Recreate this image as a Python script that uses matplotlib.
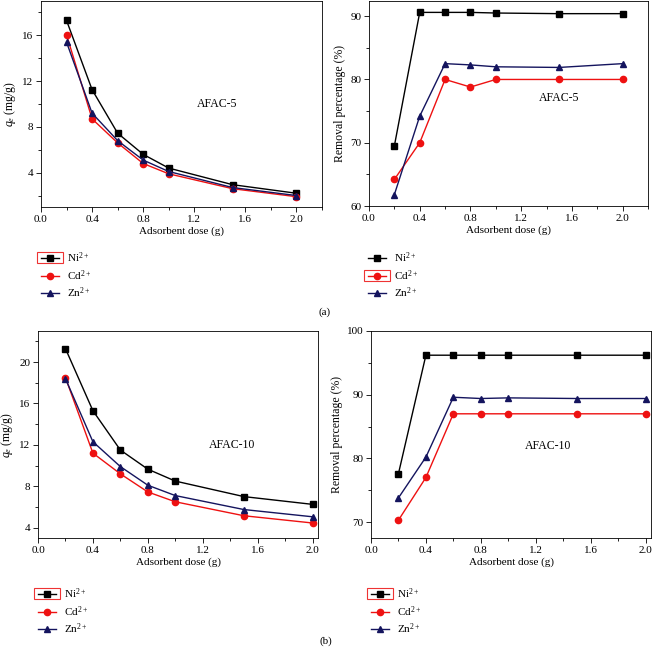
import numpy as np
import matplotlib
matplotlib.use("Agg")
import matplotlib.pyplot as plt
from matplotlib.ticker import MultipleLocator, FormatStrFormatter
from matplotlib.patches import Rectangle

plt.rcParams['font.family'] = ['Liberation Serif', 'DejaVu Serif']
plt.rcParams['mathtext.fontset'] = 'custom'
plt.rcParams['mathtext.rm'] = 'Liberation Serif'
plt.rcParams['mathtext.it'] = 'Liberation Serif:italic'
plt.rcParams['font.size'] = 8

# -------- DATA --------
dose = [0.2, 0.4, 0.6, 0.8, 1.0, 1.5, 2.0]
ions = ["Ni$^{2+}$", "Cd$^{2+}$", "Zn$^{2+}$"]

# (a) AFAC-5
qe5_ni = [17.3, 11.25, 7.45, 5.6, 4.4, 2.95, 2.2]
qe5_cd = [16.05, 8.7, 6.6, 4.8, 3.9, 2.6, 1.9]
qe5_zn = [15.4, 9.2, 6.8, 5.1, 4.1, 2.7, 2.0]
rm5_ni = [69.5, 90.6, 90.6, 90.6, 90.5, 90.4, 90.4]
rm5_cd = [64.2, 70.0, 80.0, 78.8, 80.0, 80.0, 80.0]
rm5_zn = [61.8, 74.2, 82.5, 82.3, 82.0, 81.9, 82.5]

# (b) AFAC-10
qe10_ni = [21.3, 15.3, 11.5, 9.65, 8.5, 7.0, 6.25]
qe10_cd = [18.5, 11.2, 9.2, 7.45, 6.5, 5.15, 4.45]
qe10_zn = [18.4, 12.3, 9.9, 8.1, 7.1, 5.75, 5.05]
rm10_ni = [77.6, 96.2, 96.2, 96.2, 96.2, 96.2, 96.2]
rm10_cd = [70.3, 77.0, 87.0, 87.0, 87.0, 87.0, 87.0]
rm10_zn = [73.8, 80.2, 89.6, 89.4, 89.5, 89.4, 89.4]

colors = ["black", "#ee1111", "#14145e"]
markers = ["s", "o", "^"]

W, H = 652, 647
fig = plt.figure(figsize=(W / 100, H / 100), dpi=100)


def px_axes(l, t, r, b):
    return fig.add_axes([l / W, 1 - b / H, (r - l) / W, (b - t) / H])


def panel(ax, series, xlim, ylim, ymaj, ymin, ylabel, tag, tag_xy, leg_xy):
    for y, c, m, lab in zip(series, colors, markers, ions):
        ax.plot(dose, y, color=c, marker=m, ms=4.5, lw=1, label=lab)
    ax.set_xlim(*xlim)
    ax.set_ylim(*ylim)
    ax.xaxis.set_major_locator(MultipleLocator(0.4))
    ax.xaxis.set_minor_locator(MultipleLocator(0.2))
    ax.yaxis.set_major_locator(MultipleLocator(ymaj))
    ax.yaxis.set_minor_locator(MultipleLocator(ymin))
    ax.xaxis.set_major_formatter(FormatStrFormatter('%.1f'))
    ax.tick_params(which='major', length=3.5, width=0.6, labelsize=8, pad=2)
    ax.tick_params(which='minor', length=2, width=0.6)
    for s in ax.spines.values():
        s.set_linewidth(0.6)
    ax.set_xlabel("Adsorbent dose (g)", fontsize=8, labelpad=2)
    ax.set_ylabel(ylabel, fontsize=8.5, labelpad=3)
    ax.text(tag_xy[0], tag_xy[1], tag, fontsize=8.5, ha='center', va='center')
    leg = ax.legend(loc='upper left', bbox_to_anchor=(leg_xy[0] / W, 1 - leg_xy[1] / H),
                    bbox_transform=fig.transFigure, frameon=False, borderpad=0,
                    borderaxespad=0, handlelength=1.6, handletextpad=0.7,
                    labelspacing=0.3, fontsize=8)
    return leg


ax1 = px_axes(41, 1, 322, 207)
leg1 = panel(ax1, [qe5_ni, qe5_cd, qe5_zn], (0, 2.2), (1, 19), 4, 2,
             "$q_e$ (mg/g)", "AFAC-5", (1.38, 10.0), (41, 250))

ax2 = px_axes(369, 1, 648, 206)
leg2 = panel(ax2, [rm5_ni, rm5_cd, rm5_zn], (0, 2.2), (60, 92.4), 10, 5,
             "Removal percentage (%)", "AFAC-5", (1.50, 77.0), (368, 250))

ax3 = px_axes(38, 331, 318, 538)
leg3 = panel(ax3, [qe10_ni, qe10_cd, qe10_zn], (0, 2.04), (3, 23), 4, 2,
             "$q_e$ (mg/g)", "AFAC-10", (1.415, 12.0), (38, 586))

ax4 = px_axes(371, 331, 651, 538)
leg4 = panel(ax4, [rm10_ni, rm10_cd, rm10_zn], (0, 2.04), (67.5, 100), 10, 5,
             "Removal percentage (%)", "AFAC-10", (1.29, 82.0), (371, 586))

fig.text(325 / W, 1 - 312 / H, "(a)", ha='center', va='center', fontsize=8)
fig.text(326 / W, 1 - 641 / H, "(b)", ha='center', va='center', fontsize=8)

# red selection boxes around one legend handle in each panel
fig.canvas.draw()
renderer = fig.canvas.get_renderer()
for leg, idx in [(leg1, 0), (leg2, 1), (leg3, 0), (leg4, 0)]:
    h = leg.legend_handles[idx]
    bb = h.get_window_extent(renderer)
    x0, x1 = bb.x0 - 1, bb.x1 + 1
    yc = (bb.y0 + bb.y1) / 2
    fig.add_artist(Rectangle((x0 / W, (yc - 5.5) / H), (x1 - x0) / W, 11 / H,
                             transform=fig.transFigure, fill=False,
                             edgecolor="#ee3333", lw=0.8))

fig.savefig("out.png", dpi=100)
